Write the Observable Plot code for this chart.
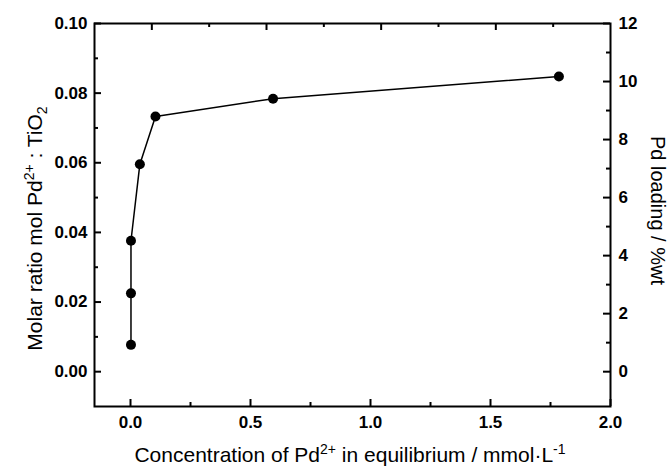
<!DOCTYPE html>
<html>
<head>
<meta charset="utf-8">
<script src="https://cdn.jsdelivr.net/npm/d3@7"></script>
<script src="https://cdn.jsdelivr.net/npm/@observablehq/plot@0.6"></script>
<style>
  body { margin: 0; background: #fff; }
  #chart svg { display: block; }
</style>
</head>
<body>
<div id="chart"></div>
<script>
// Pd2+ adsorption isotherm on TiO2
const concentration = [0.002, 0.002, 0.002, 0.039, 0.104, 0.594, 1.785]; // mmol/L in equilibrium
const molarRatio    = [0.0077, 0.0225, 0.0376, 0.0596, 0.0733, 0.0784, 0.0848]; // mol Pd2+ : TiO2

// Secondary axis: Pd loading (%wt) = molar ratio x 120
const loadingPerRatio = 120;

// Tick values
const xMajorTicks = [0, 0.5, 1.0, 1.5, 2.0];
const xMinorTicks = [0.25, 0.75, 1.25, 1.75];
const topMajorTicks = [0.0889, 0.5667, 1.0444, 1.5222];
const topMinorTicks = [0.3278, 0.8056, 1.2833, 1.7611];
const yMajorTicks = [0, 0.02, 0.04, 0.06, 0.08, 0.10];
const yMinorTicks = [0.01, 0.03, 0.05, 0.07, 0.09];
const loadingMajorTicks = [0, 2, 4, 6, 8, 10, 12];
const loadingMinorTicks = [1, 3, 5, 7, 9, 11];

const fontFamily = '"Liberation Sans", Arial, Helvetica, sans-serif';
const tickFont = {fontSize: 17, fontWeight: "bold"};
const toRatio = v => v / loadingPerRatio;

const width = 670, height = 468;
const margin = {top: 23, right: 60, bottom: 62, left: 94};
const innerW = width - margin.left - margin.right;
const innerH = height - margin.top - margin.bottom;
const majorLen = 7;
const minorLen = 4;

const points = concentration.map((c, i) => ({c, r: molarRatio[i]}));

// short tick marks pointing into the frame from one side
function inwardTicks(side, values, len) {
  const style = {stroke: "black", strokeWidth: 2};
  switch (side) {
    case "bottom": return Plot.tickX(values, {x: d => d, insetTop: innerH - len, ...style});
    case "top":    return Plot.tickX(values, {x: d => d, insetBottom: innerH - len, ...style});
    case "left":   return Plot.tickY(values, {y: d => d, insetRight: innerW - len, ...style});
    case "right":  return Plot.tickY(values, {y: d => d, insetLeft: innerW - len, ...style});
  }
}

const plot = Plot.plot({
  width,
  height,
  marginLeft: margin.left,
  marginRight: margin.right,
  marginTop: margin.top,
  marginBottom: margin.bottom,
  style: {fontFamily, background: "white", color: "black", overflow: "visible"},
  x: {domain: [-0.15, 2.0]},
  y: {domain: [-0.01, 0.10]},
  marks: [
    inwardTicks("bottom", xMajorTicks, majorLen),
    inwardTicks("bottom", xMinorTicks, minorLen),
    inwardTicks("top", topMajorTicks, majorLen),
    inwardTicks("top", topMinorTicks, minorLen),
    inwardTicks("left", yMajorTicks, majorLen),
    inwardTicks("left", yMinorTicks, minorLen),
    inwardTicks("right", loadingMajorTicks.map(toRatio), majorLen),
    inwardTicks("right", loadingMinorTicks.map(toRatio), minorLen),

    // tick labels
    Plot.axisX({ticks: xMajorTicks, tickSize: 0, tickPadding: 9, tickFormat: d3.format(".1f"), label: null, ...tickFont}),
    Plot.axisY({ticks: yMajorTicks, tickSize: 0, tickPadding: 7, tickFormat: d3.format(".2f"), label: null, ...tickFont}),
    Plot.axisY({anchor: "right", ticks: loadingMajorTicks.map(toRatio), tickSize: 0, tickPadding: 8,
      tickFormat: d => String(Math.round(d * loadingPerRatio)), label: null, ...tickFont}),

    Plot.frame({stroke: "black", strokeWidth: 2}),
    Plot.line(points, {x: "c", y: "r", stroke: "black", strokeWidth: 1.5}),
    Plot.dot(points, {x: "c", y: "r", r: 5, fill: "black", stroke: "none"})
  ]
});

// Axis titles with super/subscripts
const svg = d3.select(plot);
const [xLeft, xRight] = plot.scale("x").range;
const [yBottom, yTop] = plot.scale("y").range;
const titles = svg.append("g")
  .attr("font-family", fontFamily)
  .attr("font-size", 21)
  .attr("fill", "black");

function addScript(text, s, shift) {
  text.append("tspan").attr("font-size", 14).attr("dy", shift).text(s);
  return text.append("tspan").attr("dy", -shift);
}

// bottom
const xTitle = titles.append("text")
  .attr("x", (xLeft + xRight) / 2 - 2)
  .attr("y", 462)
  .attr("text-anchor", "middle");
xTitle.append("tspan").text("Concentration of Pd");
addScript(xTitle, "2+", -8).text(" in equilibrium / mmol·L");
addScript(xTitle, "-1", -8);

// left
const yTitle = titles.append("text")
  .attr("transform", `translate(42,${(yBottom + yTop) / 2 + 14}) rotate(-90)`)
  .attr("text-anchor", "middle");
yTitle.append("tspan").text("Molar ratio mol Pd");
addScript(yTitle, "2+", -8).text(" : TiO");
addScript(yTitle, "2", 5);

// right
titles.append("text")
  .attr("transform", `translate(651,${(yBottom + yTop) / 2 - 4}) rotate(90)`)
  .attr("text-anchor", "middle")
  .attr("font-size", 20)
  .text("Pd loading / %wt");

document.getElementById("chart").append(plot);
</script>
</body>
</html>
